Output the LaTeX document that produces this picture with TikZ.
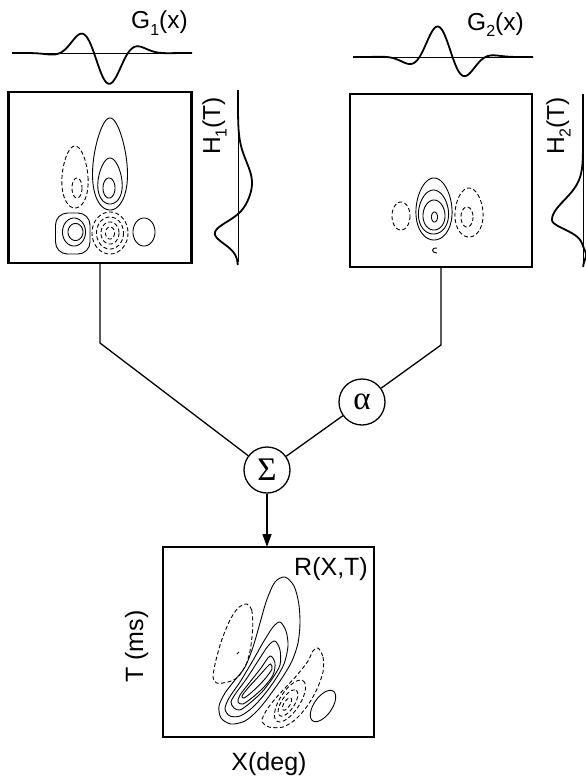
\documentclass[tikz,border=0pt]{standalone}
\usepackage{fontspec}
\setmainfont{Liberation Sans}
\newfontfamily\grk{Liberation Serif}
\usetikzlibrary{arrows.meta}
\newcommand\sub[1]{\raisebox{-6.5pt}{\fontsize{16}{16}\selectfont #1}}
\newcommand\eggc[6][poscont]{\draw[#1] plot[domain=0:360,samples=73] ({#2+#4*cos(\x)*(1+#6*sin(\x))},{#3+#5*sin(\x)}) -- cycle;}
\newcommand\teggc[7][poscont]{\draw[#1] plot[domain=0:360,samples=73] ({#2+#5*cos(\x)*cos(#4)+#6*sin(\x)*(1-#7*cos(\x))*sin(#4)},{#3-#5*cos(\x)*sin(#4)+#6*sin(\x)*(1-#7*cos(\x))*cos(#4)}) -- cycle;}
\tikzset{
 panel/.style={draw, line width=2.2pt, inner sep=0pt, outer sep=0pt},
 wire/.style={line width=1.3pt},
 opnode/.style={draw, circle, line width=1.3pt, minimum size=46pt, inner sep=0pt, font=\grk\fontsize{33}{33}\selectfont},
 poscont/.style={line width=0.9pt},
 negcont/.style={line width=0.9pt, dash pattern=on 4pt off 2.5pt},
 wave/.style={line width=1.8pt, line join=round},
 axisline/.style={line width=0.7pt},
 toplab/.style={font=\fontsize{24.5}{24.5}\selectfont, inner sep=0pt},
 botlab/.style={font=\fontsize{25}{25}\selectfont, inner sep=0pt},
}
\begin{document}
\begin{tikzpicture}[x=1pt,y=-1pt,
 declare function={
  gone(\t)=53+33*exp(-((\t-102)/30.8)*((\t-102)/30.8))*sin(deg(0.0924*(\t-94)));
  gtwo(\t)=57-32.5*exp(-((\t-444.5)/30.4)*((\t-444.5)/30.4))*cos(deg(0.0952*(\t-436)));
  hone(\t)=238+14*exp(-((\t-183)/30)*((\t-183)/30))-24*exp(-((\t-233)/15)*((\t-233)/15));
  htwo(\t)=583-31*exp(-((\t-220)/(\t<220?28:13))*((\t-220)/(\t<220?28:13)))+3*exp(-((\t-255)/7)*((\t-255)/7));
 }]
\useasboundingbox (0,0) rectangle (586,777);

% panels
\node[panel, minimum width=183pt, minimum height=171pt] (b1) at (100,177.5) {};
\node[panel, minimum width=182pt, minimum height=173pt] (b2) at (441,180.5) {};
\node[panel, minimum width=211pt, minimum height=190pt] (b3) at (268.5,642) {};

% operators
\node[opnode] (sig) at (267,470) {Σ};
\node[opnode] (alp) at (362,402) {α};

% connectors
\coordinate (k1) at (100,343);
\coordinate (k2) at (441,345);
\draw[wire] (b1.south) -- (k1) -- (sig);
\draw[wire] (b2.south) -- (k2) -- (alp);
\draw[wire] (alp) -- (sig);
\draw[wire, -{Triangle[length=13pt,width=9pt]}] (sig) -- (sig |- b3.north);

% labels
\node[toplab, anchor=base west] (g1l) at (131,28.5) {G\sub{1}(x)};
\node[toplab, anchor=base west] (g2l) at (467,30) {G\sub{2}(x)};
\node[toplab, anchor=base west, rotate=90] (h1l) at (220,155) {H\sub{1}(T)};
\node[toplab, anchor=base west, rotate=90] (h2l) at (564,155) {H\sub{2}(T)};
\node[botlab, anchor=base east] (rl) at (368,575) {R(X,T)};
\node[botlab, anchor=base] (xl) at (269,770) {X(deg)};
\node[botlab, anchor=base west, rotate=90] (tl) at (143,683) {T (ms)};

% profiles
\draw[axisline] (12,53) -- (192,53);
\draw[wave] plot[domain=12:192,samples=150] (\x,{gone(\x)});
\draw[axisline] (353,57) -- (533,57);
\draw[wave] plot[domain=353:533,samples=150] (\x,{gtwo(\x)});
\draw[axisline] (238,90) -- (238,262);
\draw[wave] plot[domain=90:265,samples=150] ({hone(\x)},\x);
\draw[axisline] (583,94) -- (583,267);
\draw[wave] plot[domain=94:267,samples=150] ({htwo(\x)},\x);

% contours panel 1
\eggc[negcont]{75}{177}{13}{31}{0.15}
\eggc[negcont]{77}{188}{5}{10}{0}
\eggc{110}{164}{17}{46}{0.25}
\eggc{110}{181}{12}{23}{0.2}
\eggc{109}{188}{6}{10}{0}
\draw[poscont, rounded corners=12pt] (55.5,213) rectangle (90,254);
\eggc{74}{232}{11.5}{14}{0}
\eggc{75.5}{232}{7.5}{8.5}{0}
\eggc[negcont]{110}{233}{18}{21}{0}
\eggc[negcont]{110}{233}{13.5}{16}{0}
\eggc[negcont]{110}{233}{9}{11}{0}
\eggc[negcont]{110}{233}{4.5}{6}{0}
\eggc{144}{232}{11}{14}{0}

% contours panel 2
\eggc{434}{209}{18}{31}{0.1}
\eggc{433.5}{212}{15}{22}{0.1}
\eggc{434}{215}{11}{15}{0.05}
\eggc{434.5}{217}{3}{5}{0}
\eggc[negcont]{401}{216}{9}{14}{0}
\eggc[negcont]{469}{212.5}{14}{24.5}{0.1}
\eggc[negcont]{467}{217}{6}{10}{0}
\draw[poscont] (437,248) .. controls (431,247) and (431,253) .. (437,253);

% contours panel 3
\draw[poscont] plot[smooth cycle] coordinates {(285,577) (294,586) (298.7,603) (300,623) (298,643) (292,661) (282,678) (270,695) (258,710) (245,721) (231,724) (221,718) (219,706) (225,693) (235,680) (245,667) (253,647) (260,623) (266.7,600) (275,582)};
\draw[poscont] plot[smooth cycle] coordinates {(280,622) (286,631) (288,646) (284,664) (275,680) (264,695) (252,708) (240,716) (230,716) (225,709) (229,698) (240,682) (252,662) (264,641) (273,627)};
\draw[poscont] plot[smooth cycle] coordinates {(275,641) (280,650) (280,665) (272,679) (262,692) (250,703) (240,710) (234,708) (231,702) (236,693) (247,678) (258,661) (268,646)};
\draw[poscont] plot[smooth cycle] coordinates {(270,656) (275,663) (273,675) (264,687) (253,697) (243,704) (238,702) (240,695) (250,682) (261,668)};
\draw[poscont] plot[smooth cycle] coordinates {(270.5,664) (272,669) (264,680) (252,692) (244,698) (242,696) (248,688) (259,676) (267,667)};
\draw[negcont] plot[smooth cycle] coordinates {(246.7,604) (251.7,610) (252.7,627) (250.7,647) (246.7,663) (238,677) (228,682) (216.7,683) (213,677) (216,660) (221.7,640) (230,620) (238,608)};
\draw[poscont] (237,654) -- (239,652);
\draw[negcont] plot[smooth cycle] coordinates {(318,648) (323,657) (323,672) (317,689) (308,705) (296,719) (283,727) (269,727) (262,721) (266,711) (275,699) (287,686) (298,674) (308,661) (313,651)};
\teggc[negcont]{290}{701}{57}{24}{10}{0}
\teggc[negcont]{288}{703}{57}{15}{6.5}{0}
\teggc[negcont]{287}{704}{57}{7}{3}{0}
\teggc{323}{706}{55}{18}{9}{0}
\end{tikzpicture}
\end{document}
